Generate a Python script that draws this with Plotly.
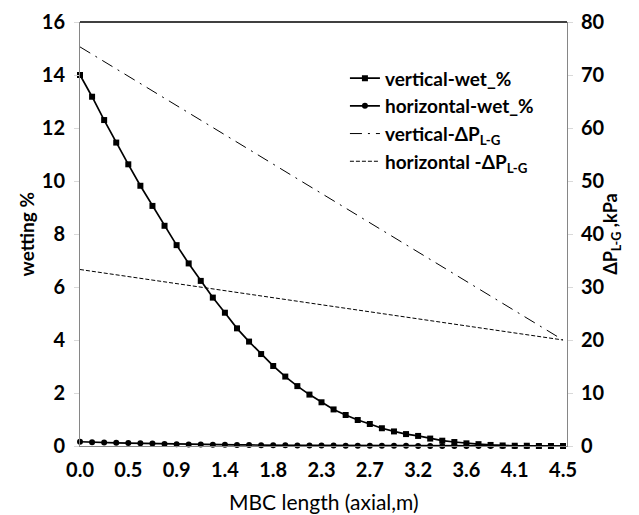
import plotly.graph_objects as go

# MBC length categories (axial, m)
x_len = [0.0, 0.1125, 0.225, 0.3375, 0.45, 0.5625, 0.675, 0.7875, 0.9, 1.0125,
         1.125, 1.2375, 1.35, 1.4625, 1.575, 1.6875, 1.8, 1.9125, 2.025, 2.1375,
         2.25, 2.3625, 2.475, 2.5875, 2.7, 2.8125, 2.925, 3.0375, 3.15, 3.2625,
         3.375, 3.4875, 3.6, 3.7125, 3.825, 3.9375, 4.05, 4.1625, 4.275, 4.3875, 4.5]

vertical_wet = [14.0, 13.18, 12.30, 11.45, 10.63, 9.82, 9.06, 8.31, 7.58, 6.89,
                6.23, 5.60, 5.03, 4.44, 3.94, 3.47, 3.02, 2.62, 2.26, 1.94,
                1.65, 1.38, 1.17, 0.98, 0.83, 0.67, 0.55, 0.45, 0.38, 0.28,
                0.20, 0.15, 0.10, 0.07, 0.04, 0.02, 0.01, 0.01, 0.0, 0.0, 0.0]

horizontal_wet = [0.16, 0.14, 0.13, 0.12, 0.11, 0.10, 0.09, 0.08, 0.07, 0.06,
                  0.06, 0.05, 0.05, 0.04, 0.04, 0.03, 0.03, 0.03, 0.02, 0.02,
                  0.02, 0.02, 0.01, 0.01, 0.01, 0.01, 0.01, 0.01, 0.0, 0.0,
                  0.0, 0.0, 0.0, 0.0, 0.0, 0.0, 0.0, 0.0, 0.0, 0.0, 0.0]

# Pressure difference (kPa), straight lines read at the two ends
dp_x = [0.0, 4.5]
vertical_dp = [75.3, 20.0]
horizontal_dp = [33.3, 20.0]

tick_vals = [0.0, 0.45, 0.9, 1.35, 1.8, 2.25, 2.7, 3.15, 3.6, 4.05, 4.5]
tick_text = ["0.0", "0.5", "0.9", "1.4", "1.8", "2.3", "2.7", "3.2", "3.6", "4.1", "4.5"]

FONT = "Lato"
fig = go.Figure()

fig.add_trace(go.Scatter(
    x=x_len, y=vertical_wet, name="<b>vertical-wet_%</b>", mode="lines+markers",
    line=dict(color="black", width=1.7),
    marker=dict(symbol="square", size=6, color="black"), cliponaxis=False))
fig.add_trace(go.Scatter(
    x=x_len, y=horizontal_wet, name="<b>horizontal-wet_%</b>", mode="lines+markers",
    line=dict(color="black", width=1.7),
    marker=dict(symbol="circle", size=6, color="black"), cliponaxis=False))
fig.add_trace(go.Scatter(
    x=dp_x, y=vertical_dp, name="<b>vertical-ΔP<sub>L-G</sub></b>", mode="lines",
    line=dict(color="black", width=1, dash="12px,6px,2px,6px"), yaxis="y2"))
fig.add_trace(go.Scatter(
    x=dp_x, y=horizontal_dp, name="<b>horizontal -ΔP<sub>L-G</sub></b>", mode="lines",
    line=dict(color="black", width=1, dash="4px,2px"), yaxis="y2"))

axis_common = dict(showgrid=False, zeroline=False, showline=True, automargin=False,
                   linecolor="#868686", linewidth=1,
                   tickfont=dict(family=FONT, size=20, color="black", weight="bold"))

# page body has an 8px default margin, so the figure is sized to fit the window
fig.update_layout(
    width=631, height=507,
    margin=dict(l=72, r=72, t=14, b=69),
    paper_bgcolor="white", plot_bgcolor="white",
    showlegend=True,
    legend=dict(x=0.544, y=0.912, xanchor="left", yanchor="top",
                bgcolor="rgba(0,0,0,0)", borderwidth=0,
                font=dict(family=FONT, size=19, color="black"),
                itemwidth=30, tracegroupgap=0),
    xaxis=dict(**axis_common, range=[0, 4.537], tickvals=tick_vals, ticktext=tick_text,
               ticks="", ticklabelstandoff=6),
    yaxis=dict(**axis_common, range=[0, 16], dtick=2, ticks="outside", ticklen=5,
               tickcolor="#d9d9d9", ticklabelstandoff=5),
    yaxis2=dict(**axis_common, range=[0, 80], dtick=10, overlaying="y", side="right",
                ticks="outside", ticklen=5, tickcolor="#d9d9d9", ticklabelstandoff=4),
)

# axis titles
fig.add_annotation(text="MBC length (axial,m)", xref="paper", yref="paper",
                   x=0.5, y=-0.132, xanchor="center", yanchor="middle", showarrow=False,
                   font=dict(family=FONT, size=21, color="black"))
fig.add_annotation(text="<b>wetting %</b>", xref="paper", yref="paper",
                   x=-0.11, y=0.5, xanchor="center", yanchor="middle", showarrow=False,
                   textangle=-90, font=dict(family=FONT, size=19, color="black"))
fig.add_annotation(text="<b>ΔP<sub>L-G</sub> ,kPa</b>", xref="paper", yref="paper",
                   x=1.09, y=0.5, xanchor="center", yanchor="middle", showarrow=False,
                   textangle=-90, font=dict(family=FONT, size=18, color="black"))

# top border of the plot area
fig.add_shape(type="line", xref="paper", yref="paper", x0=0, x1=1, y0=1, y1=1,
              line=dict(color="black", width=1.5))

fig.write_html("out.html")
